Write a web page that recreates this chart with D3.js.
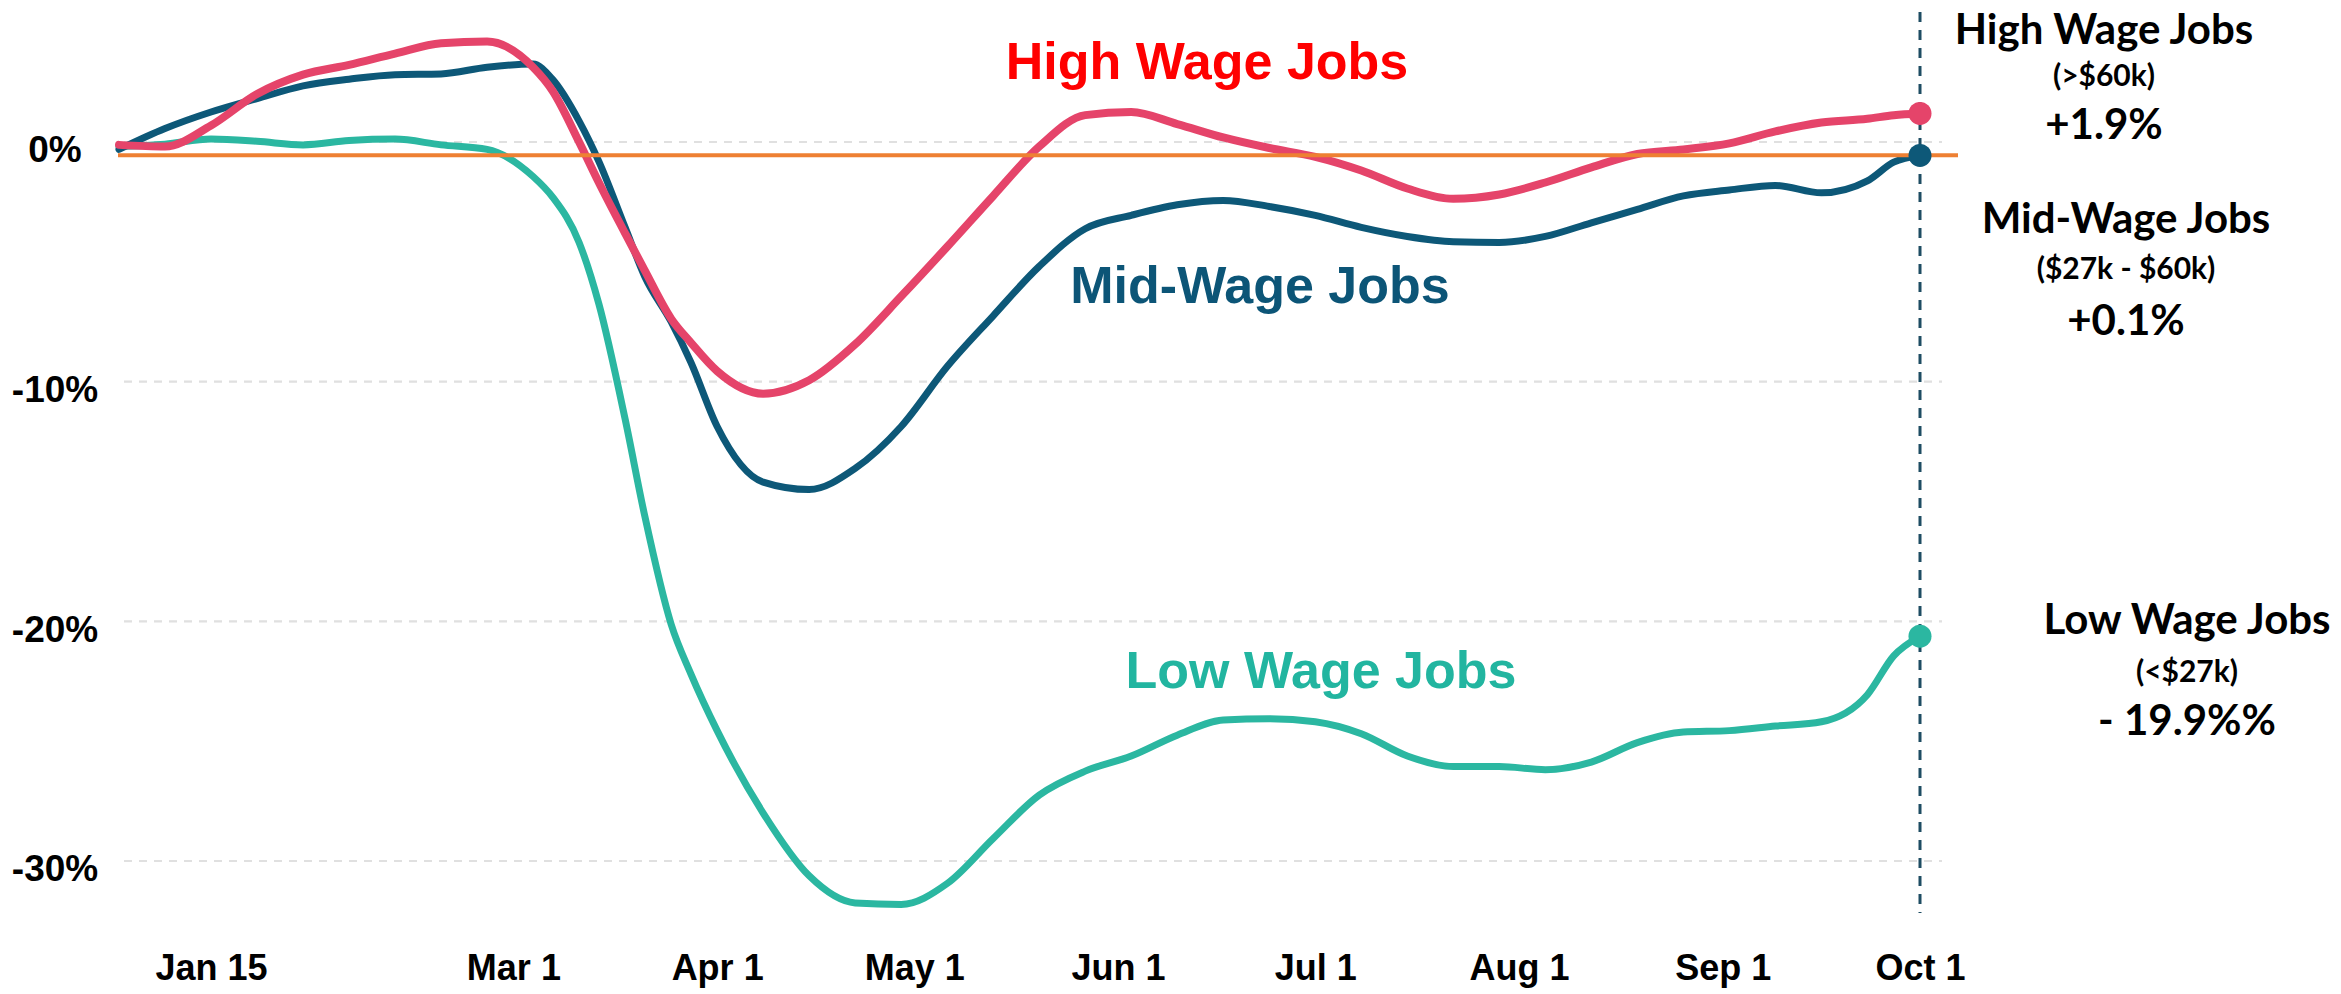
<!DOCTYPE html>
<html>
<head>
<meta charset="utf-8">
<script src="https://cdn.jsdelivr.net/npm/d3@7"></script>
<style>
  body { margin: 0; background: #fff; }
  svg { display: block; }
</style>
</head>
<body>
<div id="chart"></div>
<script>
// change in employment vs January, by wage group
const dates = [
  "2020-01-01","2020-01-08","2020-01-15","2020-01-22","2020-01-29","2020-02-05","2020-02-12",
  "2020-02-19","2020-02-26","2020-03-04","2020-03-07","2020-03-11","2020-03-14","2020-03-18",
  "2020-03-21","2020-03-25","2020-03-28","2020-04-01","2020-04-08","2020-04-15","2020-04-22",
  "2020-04-29","2020-05-06","2020-05-13","2020-05-20","2020-05-27","2020-06-03","2020-06-10",
  "2020-06-17","2020-06-24","2020-07-01","2020-07-08","2020-07-15","2020-07-22","2020-07-29",
  "2020-08-05","2020-08-12","2020-08-19","2020-08-26","2020-09-02","2020-09-09","2020-09-16",
  "2020-09-23","2020-09-27","2020-10-01"
];
const highWage = [
  -0.12, -0.19, 0.69, 2.0, 2.81, 3.22, 3.69,
  4.12, 4.19, 3.12, 2.12, 0.0, -1.69, -3.81,
  -5.37, -7.37, -8.37, -9.56, -10.5, -9.94, -8.44,
  -6.44, -4.37, -2.25, -0.19, 1.12, 1.25, 0.75,
  0.19, -0.25, -0.62, -1.19, -1.94, -2.37, -2.19,
  -1.69, -1.06, -0.5, -0.31, -0.06, 0.44, 0.81,
  0.97, 1.12, 1.19
];
const midWage = [
  -0.31, 0.56, 1.25, 1.81, 2.34, 2.62, 2.81,
  2.84, 3.12, 3.25, 2.6, 0.87, -0.81, -3.56,
  -5.62, -7.5, -9.19, -11.87, -14.19, -14.5, -13.62,
  -11.87, -9.37, -7.25, -5.19, -3.62, -3.06, -2.62,
  -2.44, -2.69, -3.06, -3.56, -3.94, -4.16, -4.19,
  -3.94, -3.37, -2.81, -2.25, -2.0, -1.81, -2.12,
  -1.62, -0.84, -0.56
];
const lowWage = [
  -0.19, -0.09, 0.12, 0.03, -0.12, 0.06, 0.12,
  -0.12, -0.31, -1.44, -2.31, -4.19, -6.75, -11.56,
  -15.62, -20.12, -22.19, -24.56, -28.0, -30.62, -31.75,
  -31.81, -30.94, -29.06, -27.25, -26.25, -25.62, -24.75,
  -24.12, -24.06, -24.19, -24.69, -25.62, -26.06, -26.06,
  -26.19, -25.87, -25.06, -24.62, -24.56, -24.37, -24.19,
  -23.06, -21.44, -20.62
];

const xTickDates = ["2020-01-15","2020-03-01","2020-04-01","2020-05-01","2020-06-01","2020-07-01","2020-08-01","2020-09-01","2020-10-01"];
const xTickLabels = ["Jan 15","Mar 1","Apr 1","May 1","Jun 1","Jul 1","Aug 1","Sep 1","Oct 1"];
const yTicks = [0, -10, -20, -30];
const refLine = -0.55;

const seriesNames = ["High Wage Jobs", "Mid-Wage Jobs", "Low Wage Jobs"];
const endLabels = [
  ["High Wage Jobs", "(>$60k)", "+1.9%"],
  ["Mid-Wage Jobs", "($27k - $60k)", "+0.1%"],
  ["Low Wage Jobs", "(<$27k)", "- 19.9%%"]
];

const W = 2341, H = 994;
const parse = d3.timeParse("%Y-%m-%d");

const series = [
  { name: seriesNames[0], values: highWage, color: "#e5446a", text: "#ff0000", width: 8 },
  { name: seriesNames[1], values: midWage,  color: "#0d5878", text: "#0c5577", width: 7 },
  { name: seriesNames[2], values: lowWage,  color: "#2bb7a1", text: "#22b5a0", width: 7 }
];

const x = d3.scaleTime()
  .domain([parse(dates[0]), parse(dates[dates.length - 1])])
  .range([119, 1920]);
const y = d3.scaleLinear()
  .domain([0, -30])
  .range([142, 861]);

const svg = d3.select("#chart").append("svg")
  .attr("width", W)
  .attr("height", H)
  .style("background", "#fff");

const boldFont = '"Liberation Sans", Arial, sans-serif';
const noteFont = 'Lato, "Open Sans", sans-serif';

// dashed gridlines
svg.append("g")
  .selectAll("line")
  .data(yTicks)
  .join("line")
  .attr("x1", 124)
  .attr("x2", 1942)
  .attr("y1", d => y(d))
  .attr("y2", d => y(d))
  .attr("stroke", "#e0e0e0")
  .attr("stroke-width", 2.2)
  .attr("stroke-dasharray", "8 7");

// y labels
const yAxis = d3.axisLeft(y)
  .tickValues(yTicks)
  .tickSize(0)
  .tickFormat(d => d + "%");
const gy = svg.append("g").attr("transform", "translate(55,0)").call(yAxis);
gy.select(".domain").remove();
gy.selectAll("text")
  .attr("x", 0)
  .attr("dy", "0.35em")
  .attr("y", 7)
  .attr("text-anchor", "middle")
  .style("font-family", boldFont)
  .style("font-weight", "bold")
  .style("font-size", "37px")
  .attr("fill", "#000");

// x labels
const xAxis = d3.axisBottom(x)
  .tickValues(xTickDates.map(parse))
  .tickSize(0)
  .tickFormat((d, i) => xTickLabels[i]);
const gx = svg.append("g").attr("transform", "translate(0,980)").call(xAxis);
gx.select(".domain").remove();
gx.selectAll("text")
  .attr("y", 0)
  .attr("dy", 0)
  .style("font-family", boldFont)
  .style("font-weight", "bold")
  .style("font-size", "36px")
  .attr("fill", "#000");

// vertical marker at the last date
const lastDate = parse(dates[dates.length - 1]);
svg.append("line")
  .attr("x1", x(lastDate)).attr("x2", x(lastDate))
  .attr("y1", 12).attr("y2", 913)
  .attr("stroke", "#1e4d63")
  .attr("stroke-width", 3)
  .attr("stroke-dasharray", "10 8");

const line = d3.line()
  .x((d, i) => x(parse(dates[i])))
  .y(d => y(d))
  .curve(d3.curveMonotoneX);

// draw low first so high sits on top
series.slice().reverse().forEach(s => {
  svg.append("path")
    .datum(s.values)
    .attr("fill", "none")
    .attr("stroke", s.color)
    .attr("stroke-width", s.width)
    .attr("stroke-linejoin", "round")
    .attr("stroke-linecap", "round")
    .attr("d", line);
});

// orange reference line
svg.append("line")
  .attr("x1", 118).attr("x2", 1958)
  .attr("y1", y(refLine)).attr("y2", y(refLine))
  .attr("stroke", "#ee8033")
  .attr("stroke-width", 4);

// end dots
series.forEach(s => {
  svg.append("circle")
    .attr("cx", x(lastDate))
    .attr("cy", y(s.values[s.values.length - 1]))
    .attr("r", 11.5)
    .attr("fill", s.color);
});

// inline series labels
const inlinePos = [[1207, 79], [1260, 303], [1321, 688]];
series.forEach((s, i) => {
  svg.append("text")
    .attr("x", inlinePos[i][0])
    .attr("y", inlinePos[i][1])
    .attr("text-anchor", "middle")
    .style("font-family", boldFont)
    .style("font-weight", "bold")
    .style("font-size", "52px")
    .attr("fill", s.text)
    .text(s.name);
});

// right-hand notes
const notePos = [
  { cx: 2104, lines: [44, 86, 139] },
  { cx: 2126, lines: [233, 279, 335] },
  { cx: 2187, lines: [634, 682, 735] }
];
const noteSizes = [42, 30, 42];
endLabels.forEach((lbl, i) => {
  lbl.forEach((t, j) => {
    svg.append("text")
      .attr("x", notePos[i].cx)
      .attr("y", notePos[i].lines[j])
      .attr("text-anchor", "middle")
      .style("font-family", noteFont)
      .style("font-weight", "bold")
      .style("font-size", noteSizes[j] + "px")
      .attr("fill", "#000")
      .text(t);
  });
});
</script>
</body>
</html>
